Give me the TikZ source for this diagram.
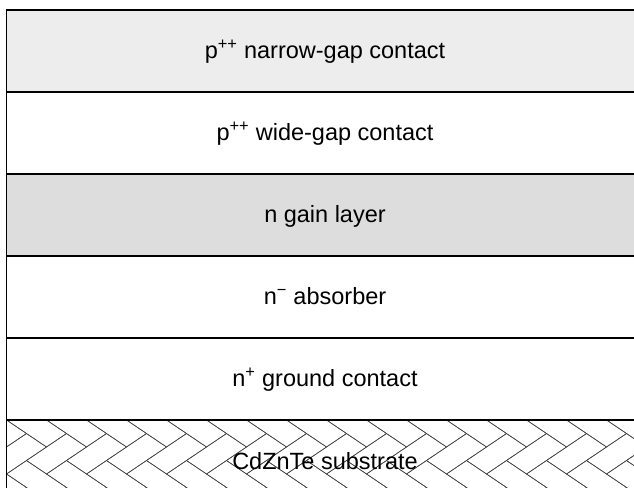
\documentclass[tikz,border=0pt]{standalone}
\usepackage{fontspec}
\setmainfont{Liberation Sans}
\definecolor{contactgray}{HTML}{EDEDED}
\definecolor{gaingray}{HTML}{DDDDDD}
\begin{document}
\begin{tikzpicture}[x=1pt,y=1pt,
  layerbox/.style={draw=black, line width=1.6pt, minimum width=637pt,
    minimum height=82pt, inner sep=0pt, outer sep=0pt},
  lbl/.style={font=\fontsize{23.5}{28}\selectfont, text=black,
    anchor=base, inner sep=0pt},
  hatchline/.style={draw=black!75, line width=0.55pt}]
\useasboundingbox (0,0) rectangle (634,487);
\clip (0,0) rectangle (634,487);

% layer stack, top to bottom
\node[layerbox, fill=contactgray] (narrow) at (325,436) {};
\node[layerbox, fill=white]       (wide)   at (325,354) {};
\node[layerbox, fill=gaingray]    (gain)   at (325,272) {};
\node[layerbox, fill=white]       (absorb) at (325,190) {};
\node[layerbox, fill=white]       (ground) at (325,108) {};
\node[layerbox, fill=white]       (subst)  at (325,26)  {};

% herringbone hatch of the substrate
\begin{scope}
  \clip (subst.south west) rectangle (subst.north east);
  \begin{scope}[cm={20,-13.5,20,13.5,(6.5,67)}]
    \foreach \m in {-3,...,2}{
      \foreach \k in {-3,...,18}{
        \draw[hatchline] ({\k+2*\m},{\k-2*\m}) rectangle ++(2,1);
        \draw[hatchline] ({\k+2*\m},{\k+1-2*\m}) rectangle ++(1,2);
      }
    }
  \end{scope}
\end{scope}
\draw[line width=1.6pt] (subst.south west) rectangle (subst.north east);

% layer names, set on a common baseline in each layer
\node[lbl] (tnarrow) at ([yshift=-8pt]narrow) {p\textsuperscript{++} narrow-gap contact};
\node[lbl] (twide)   at ([yshift=-8pt]wide)   {p\textsuperscript{++} wide-gap contact};
\node[lbl] (tgain)   at ([yshift=-8pt]gain)   {n gain layer};
\node[lbl] (tabsorb) at ([yshift=-8pt]absorb) {n\textsuperscript{−} absorber};
\node[lbl] (tground) at ([yshift=-8pt]ground) {n\textsuperscript{+} ground contact};
\node[lbl] (tsubst)  at ([yshift=-8pt]subst)  {CdZnTe substrate};
\end{tikzpicture}
\end{document}
